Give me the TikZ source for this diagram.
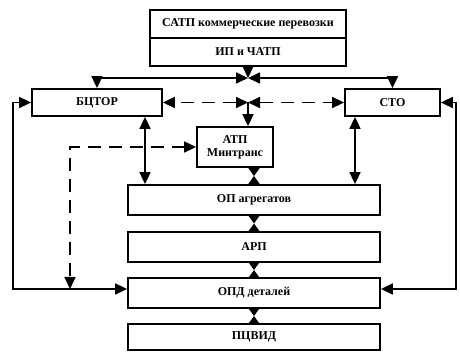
\documentclass[tikz,border=0pt]{standalone}
\usepackage{fontspec}
\setmainfont{Liberation Serif}
\usetikzlibrary{positioning}
\usetikzlibrary{calc}
\usetikzlibrary{arrows.meta}

\begin{document}
\begin{tikzpicture}[x=1pt, y=-1pt,
  box/.style={draw, line width=1.8pt, font=\bfseries\fontsize{12}{13}\selectfont, inner sep=0pt, align=center},
  link/.style={line width=1.7pt},
  tip/.style={-{Triangle[length=12pt,width=11pt]}},
  tips/.style={{Triangle[length=12pt,width=11pt]}-{Triangle[length=12pt,width=11pt]}},
  hg/.style={-{Triangle[length=8pt,width=11pt]}},
  dashline/.style={dash pattern=on 13pt off 8pt}
]
\useasboundingbox (0,0) rectangle (460,352);
\clip (0,0) rectangle (460,352);
\node[box, minimum width=196, minimum height=28] (satp) at (248,24) {САТП коммерческие перевозки};
\node[box, minimum width=196, minimum height=28] (ip) at (248,52) {ИП и ЧАТП};
\node[box, minimum width=130, minimum height=27] (bctor) at (97,102.5) {БЦТОР};
\node[box, minimum width=95, minimum height=27] (sto) at (392.5,102.5) {СТО};
\node[box, minimum width=76, minimum height=40] (atp) at (235,147) {АТП\\Минтранс};
\node[box, minimum width=252, minimum height=30] (opa) at (254,200) {ОП агрегатов};
\node[box, minimum width=252, minimum height=30] (arp) at (254,247) {АРП};
\node[box, minimum width=252, minimum height=30] (opd) at (254,293) {ОПД деталей};
\node[box, minimum width=252, minimum height=26] (pcvid) at (254,337) {ПЦВИД};

\coordinate (J1) at (248,78);
\coordinate (J2) at (248,102.5);
\draw[link, tips] (J1) -| (bctor.north);
\draw[link, tips] (J1) -| (sto.north);
\draw[link, tip] (ip.south) -- (J1);

\draw[link, dashline, tips] (J2) -- (bctor.east);
\draw[link, dashline, tips] (J2) -- (sto.west);
\draw[link, tip] (J2) -- (J2 |- atp.north);

\draw[link, tips] ([xshift=48]bctor.south) -- ([xshift=48]bctor.south |- opa.north);
\draw[link, tips] ([xshift=-37.5]sto.south) -- ([xshift=-37.5]sto.south |- opa.north);

\foreach \a/\b in {atp/opa, opa/arp, arp/opd, opd/pcvid} {
  \coordinate (m) at ($(\a.south -| \b.north)!0.5!(\b.north)$);
  \draw[link, hg] (\a.south -| \b.north) -- (m);
  \draw[link, hg] (\b.north) -- (m);
}

\coordinate (lc) at (13,289);
\coordinate (rc) at (456,289);
\coordinate (dc) at (70,289);
\draw[link, tips] (bctor.west) -| (lc) -- (lc -| opd.west);
\draw[link, tips] (sto.east) -| (rc) -- (rc -| opd.east);
\draw[link, dashline, tips] (atp.west) -| (dc);
\end{tikzpicture}
\end{document}
